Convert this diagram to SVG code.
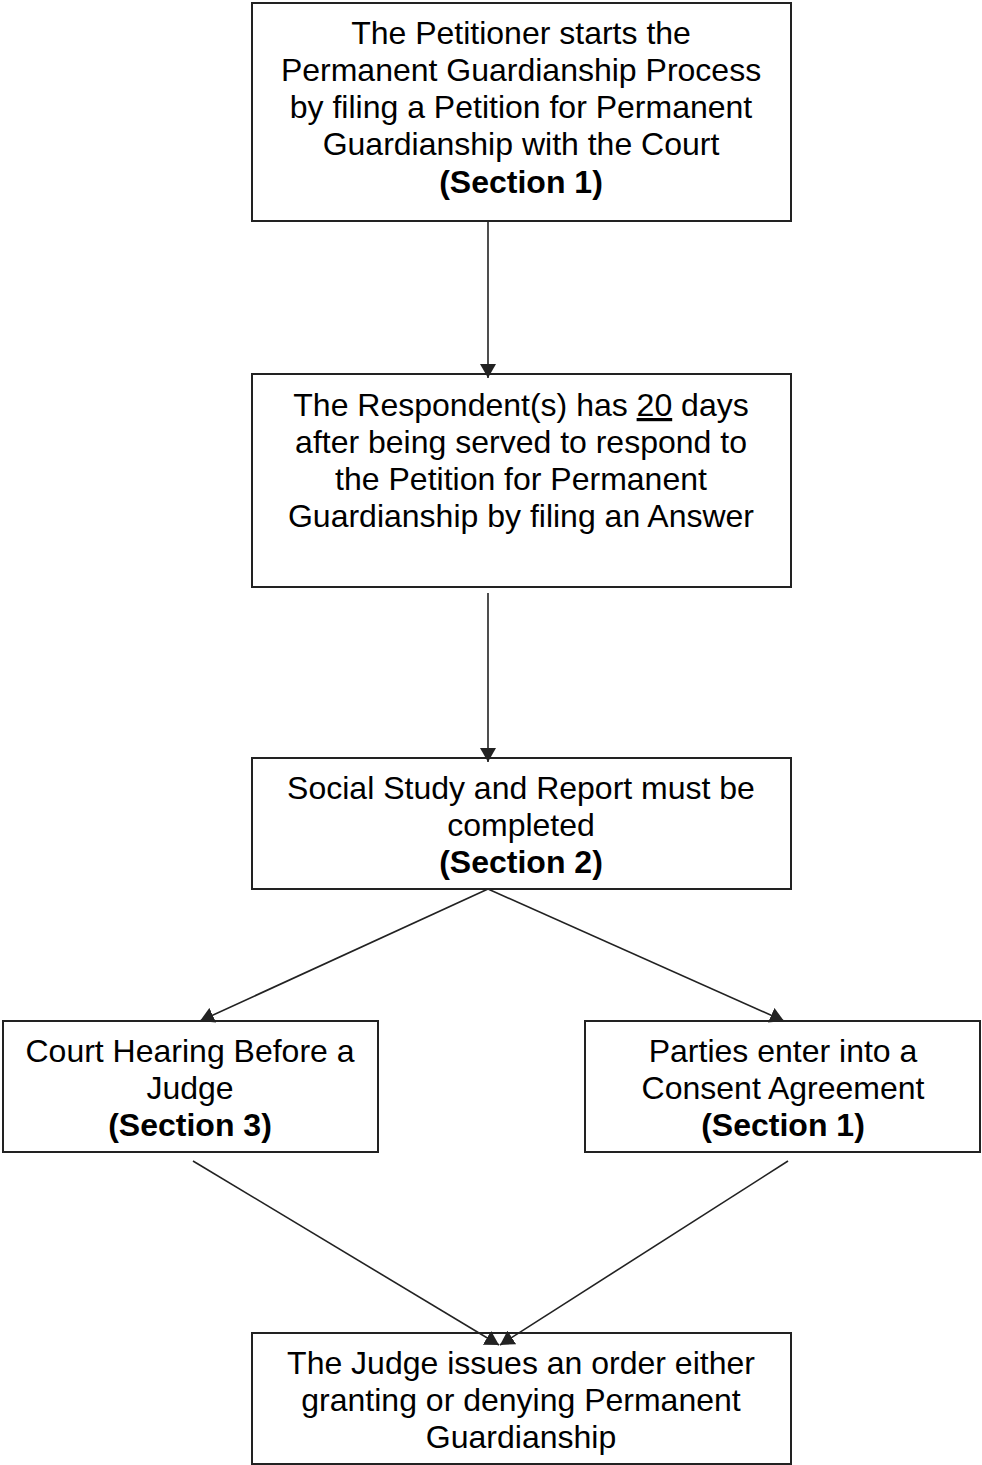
<svg xmlns="http://www.w3.org/2000/svg" width="982" height="1465" viewBox="0 0 982 1465">
<style>
.box{fill:#fff;stroke:#222;stroke-width:2}
.t{font-family:"Liberation Sans",Arial,sans-serif;font-size:32px;fill:#000;text-anchor:middle}
.b{font-weight:bold}
.c{stroke:#222;stroke-width:1.6;fill:none;marker-end:url(#ah)}
</style>
<defs>
<marker id="ah" viewBox="0 0 14 16" refX="14" refY="8" markerWidth="14" markerHeight="16" markerUnits="userSpaceOnUse" orient="auto">
<path d="M0,0 L14,8 L0,16 Z" fill="#222"/>
</marker>
</defs>
<g id="node1">
<rect class="box" x="252" y="3" width="539" height="218"/>
<text class="t" x="521" y="44">The Petitioner starts the</text>
<text class="t" x="521" y="81">Permanent Guardianship Process</text>
<text class="t" x="521" y="118">by filing a Petition for Permanent</text>
<text class="t" x="521" y="155">Guardianship with the Court</text>
<text class="t b" x="521" y="193">(Section 1)</text>
</g>
<g id="node2">
<rect class="box" x="252" y="374" width="539" height="213"/>
<text class="t" x="521" y="416">The Respondent(s) has <tspan text-decoration="underline">20</tspan> days</text>
<text class="t" x="521" y="453">after being served to respond to</text>
<text class="t" x="521" y="490">the Petition for Permanent</text>
<text class="t" x="521" y="527">Guardianship by filing an Answer</text>
</g>
<g id="node3">
<rect class="box" x="252" y="758" width="539" height="131"/>
<text class="t" x="521" y="799">Social Study and Report must be</text>
<text class="t" x="521" y="836">completed</text>
<text class="t b" x="521" y="873">(Section 2)</text>
</g>
<g id="node4">
<rect class="box" x="3" y="1021" width="375" height="131"/>
<text class="t" x="190" y="1062">Court Hearing Before a</text>
<text class="t" x="190" y="1099">Judge</text>
<text class="t b" x="190" y="1136">(Section 3)</text>
</g>
<g id="node5">
<rect class="box" x="585" y="1021" width="395" height="131"/>
<text class="t" x="783" y="1062">Parties enter into a</text>
<text class="t" x="783" y="1099">Consent Agreement</text>
<text class="t b" x="783" y="1136">(Section 1)</text>
</g>
<g id="node6">
<rect class="box" x="252" y="1333" width="539" height="131"/>
<text class="t" x="521" y="1374">The Judge issues an order either</text>
<text class="t" x="521" y="1411">granting or denying Permanent</text>
<text class="t" x="521" y="1448">Guardianship</text>
</g>
<g id="connectors">
<line class="c" x1="488" y1="221" x2="488" y2="378"/>
<line class="c" x1="488" y1="593" x2="488" y2="762"/>
<line class="c" x1="488" y1="889" x2="200" y2="1021"/>
<line class="c" x1="488" y1="889" x2="784" y2="1021"/>
<line class="c" x1="193" y1="1161" x2="499" y2="1345"/>
<line class="c" x1="788" y1="1161" x2="500" y2="1345"/>
</g>
</svg>
